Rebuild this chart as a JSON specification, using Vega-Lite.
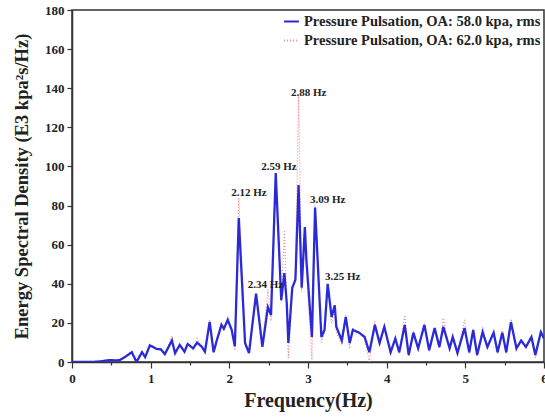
{
  "$schema": "https://vega.github.io/schema/vega-lite/v6.json",
  "width": 472,
  "height": 352,
  "autosize": {"type": "none"},
  "padding": {"left": 72, "top": 10, "right": 1, "bottom": 57},
  "background": "white",
  "config": {
    "view": {"stroke": "#333333", "strokeWidth": 1.5},
    "font": "Liberation Serif",
    "axis": {
      "labelFont": "Liberation Serif", "labelFontWeight": "bold", "labelFontSize": 13, "labelColor": "#222",
      "titleFont": "Liberation Serif", "titleFontWeight": "bold", "titleColor": "#222",
      "domainColor": "#333", "domainWidth": 1.5, "tickColor": "#333", "tickWidth": 1.2, "grid": false,
      "labelOverlap": false
    },
    "legend": {
      "labelFont": "Liberation Serif", "labelFontWeight": "bold", "labelFontSize": 14.5, "labelColor": "#222", "labelLimit": 400
    }
  },
  "datasets": {
    "spec": [
      {"f": 0, "a": 0, "b": 0},
      {"f": 0.10, "a": 0, "b": 0},
      {"f": 0.23, "a": 0, "b": 0},
      {"f": 0.36, "a": 0.3, "b": 0.3},
      {"f": 0.48, "a": 1, "b": 1.2},
      {"f": 0.55, "a": 0.8, "b": 0.8},
      {"f": 0.61, "a": 1, "b": 1},
      {"f": 0.69, "a": 3, "b": 3.5},
      {"f": 0.76, "a": 5, "b": 5.5},
      {"f": 0.82, "a": 0, "b": 0.5},
      {"f": 0.89, "a": 5, "b": 5.5},
      {"f": 0.93, "a": 2.5, "b": 2.5},
      {"f": 0.99, "a": 8.5, "b": 9},
      {"f": 1.08, "a": 6.6, "b": 7},
      {"f": 1.13, "a": 6.5, "b": 6.5},
      {"f": 1.18, "a": 4, "b": 3.5},
      {"f": 1.27, "a": 11, "b": 13.5},
      {"f": 1.31, "a": 4.6, "b": 3},
      {"f": 1.37, "a": 8.7, "b": 9},
      {"f": 1.43, "a": 5.3, "b": 5},
      {"f": 1.47, "a": 9.2, "b": 9.5},
      {"f": 1.54, "a": 7, "b": 6.5},
      {"f": 1.59, "a": 9.9, "b": 12},
      {"f": 1.65, "a": 7.8, "b": 7.5},
      {"f": 1.69, "a": 5.3, "b": 5},
      {"f": 1.75, "a": 20.5, "b": 21.5},
      {"f": 1.80, "a": 5, "b": 4.5},
      {"f": 1.84, "a": 11, "b": 11},
      {"f": 1.90, "a": 19, "b": 19.5},
      {"f": 1.93, "a": 17, "b": 17},
      {"f": 1.98, "a": 21.5, "b": 23.5},
      {"f": 2.03, "a": 16.4, "b": 16},
      {"f": 2.07, "a": 8, "b": 6},
      {"f": 2.12, "a": 73.6, "b": 84},
      {"f": 2.20, "a": 9.7, "b": 9},
      {"f": 2.25, "a": 4.6, "b": 4.5},
      {"f": 2.34, "a": 35, "b": 34},
      {"f": 2.42, "a": 7.7, "b": 8},
      {"f": 2.49, "a": 28, "b": 37},
      {"f": 2.53, "a": 24, "b": 21},
      {"f": 2.59, "a": 96.6, "b": 95},
      {"f": 2.66, "a": 31.7, "b": 30},
      {"f": 2.70, "a": 45.5, "b": 67.5},
      {"f": 2.73, "a": 30, "b": 28},
      {"f": 2.75, "a": 9.7, "b": 2},
      {"f": 2.80, "a": 38, "b": 36},
      {"f": 2.84, "a": 42, "b": 44},
      {"f": 2.88, "a": 90.5, "b": 136},
      {"f": 2.92, "a": 38, "b": 36},
      {"f": 2.96, "a": 69, "b": 62},
      {"f": 2.98, "a": 52, "b": 48},
      {"f": 3.05, "a": 12.8, "b": 1},
      {"f": 3.09, "a": 79, "b": 80},
      {"f": 3.17, "a": 12.8, "b": 10},
      {"f": 3.21, "a": 16.4, "b": 15},
      {"f": 3.25, "a": 40, "b": 38},
      {"f": 3.30, "a": 23, "b": 20},
      {"f": 3.34, "a": 29, "b": 28},
      {"f": 3.36, "a": 18, "b": 15},
      {"f": 3.43, "a": 11, "b": 9},
      {"f": 3.48, "a": 23, "b": 24},
      {"f": 3.53, "a": 9.7, "b": 7},
      {"f": 3.57, "a": 16.4, "b": 17},
      {"f": 3.65, "a": 15, "b": 15},
      {"f": 3.72, "a": 12.8, "b": 12},
      {"f": 3.78, "a": 5, "b": 0},
      {"f": 3.85, "a": 19, "b": 21},
      {"f": 3.91, "a": 9.7, "b": 9},
      {"f": 3.97, "a": 18, "b": 19},
      {"f": 4.05, "a": 5, "b": 4},
      {"f": 4.11, "a": 12, "b": 12},
      {"f": 4.16, "a": 5, "b": 4},
      {"f": 4.23, "a": 19, "b": 24},
      {"f": 4.28, "a": 3.6, "b": 3},
      {"f": 4.34, "a": 15, "b": 16},
      {"f": 4.40, "a": 7, "b": 6},
      {"f": 4.48, "a": 19, "b": 20},
      {"f": 4.54, "a": 6, "b": 5},
      {"f": 4.61, "a": 17.4, "b": 16},
      {"f": 4.67, "a": 7.7, "b": 7},
      {"f": 4.72, "a": 18, "b": 22.5},
      {"f": 4.80, "a": 7, "b": 6},
      {"f": 4.84, "a": 12.8, "b": 13},
      {"f": 4.90, "a": 4.6, "b": 4},
      {"f": 4.99, "a": 17.4, "b": 21.5},
      {"f": 5.05, "a": 5, "b": 4},
      {"f": 5.10, "a": 16.4, "b": 17},
      {"f": 5.15, "a": 3.6, "b": 3},
      {"f": 5.22, "a": 15.3, "b": 18},
      {"f": 5.28, "a": 7.7, "b": 7},
      {"f": 5.36, "a": 15, "b": 15},
      {"f": 5.41, "a": 5, "b": 4},
      {"f": 5.47, "a": 15, "b": 17},
      {"f": 5.52, "a": 5, "b": 4},
      {"f": 5.58, "a": 20.4, "b": 22},
      {"f": 5.65, "a": 7, "b": 6},
      {"f": 5.71, "a": 11, "b": 11},
      {"f": 5.77, "a": 7.7, "b": 7},
      {"f": 5.84, "a": 12.8, "b": 13},
      {"f": 5.89, "a": 3.6, "b": 2},
      {"f": 5.96, "a": 15.3, "b": 16},
      {"f": 6.0, "a": 12, "b": 12}
    ],
    "labels": [
      {"label": "2.12 Hz", "f": 2.25, "v": 86.5},
      {"label": "2.59 Hz", "f": 2.63, "v": 99.5},
      {"label": "2.88 Hz", "f": 3.01, "v": 137.5},
      {"label": "3.09 Hz", "f": 3.25, "v": 83},
      {"label": "2.34 Hz", "f": 2.46, "v": 39.5},
      {"label": "3.25 Hz", "f": 3.44, "v": 43.5}
    ]
  },
  "encoding": {
    "x": {
      "field": "f", "type": "quantitative",
      "scale": {"domain": [0, 6], "nice": false},
      "axis": {
        "title": "Frequency(Hz)", "titleFontSize": 20, "titlePadding": 5,
        "values": [0, 0.5, 1, 1.5, 2, 2.5, 3, 3.5, 4, 4.5, 5, 5.5, 6],
        "format": "~g",
        "labelExpr": "datum.value % 1 === 0 ? datum.label : ''",
        "tickSize": {"condition": {"test": "datum.value % 1 !== 0", "value": 3}, "value": 6},
        "labelPadding": 4, "labelFlush": false
      }
    },
    "y": {
      "field": "v", "type": "quantitative",
      "scale": {"domain": [0, 180], "nice": false},
      "axis": {
        "title": "Energy Spectral Density (E3 kpa²s/Hz)", "titleFontSize": 18.5, "titlePadding": 13,
        "values": [0, 20, 40, 60, 80, 100, 120, 140, 160, 180],
        "tickSize": 5, "labelPadding": 3, "labelOverlap": false
      }
    }
  },
  "layer": [
    {
      "data": {"name": "spec"},
      "transform": [{"fold": ["b"], "as": ["series", "v"]}],
      "mark": {"type": "line", "strokeWidth": 1.2, "clip": true},
      "encoding": {
        "color": {
          "field": "series", "type": "nominal",
          "scale": {"domain": ["a", "b"], "range": ["#2a2ad8", "#f08a8a"]},
          "legend": {
            "title": null, "orient": "top-right", "offset": 3,
            "symbolType": "stroke", "symbolSize": 220, "symbolStrokeWidth": 2,
            "rowPadding": 4, "labelOffset": 4,
            "labelExpr": "datum.label === 'a' ? 'Pressure Pulsation, OA: 58.0 kpa, rms' : 'Pressure Pulsation, OA: 62.0 kpa, rms'"
          }
        },
        "strokeDash": {
          "field": "series", "type": "nominal",
          "scale": {"domain": ["a", "b"], "range": [[1, 0], [1, 2]]},
          "legend": {
            "title": null, "orient": "top-right", "offset": 3,
            "symbolType": "stroke", "symbolSize": 220, "symbolStrokeWidth": 2,
            "rowPadding": 4, "labelOffset": 4,
            "labelExpr": "datum.label === 'a' ? 'Pressure Pulsation, OA: 58.0 kpa, rms' : 'Pressure Pulsation, OA: 62.0 kpa, rms'"
          }
        }
      }
    },
    {
      "data": {"name": "spec"},
      "transform": [{"fold": ["a"], "as": ["series", "v"]}],
      "mark": {"type": "line", "strokeWidth": 2.3, "clip": true},
      "encoding": {
        "color": {"field": "series", "type": "nominal"},
        "strokeDash": {"field": "series", "type": "nominal"}
      }
    },
    {
      "data": {"name": "labels"},
      "mark": {"type": "text", "font": "Liberation Serif", "fontWeight": "bold", "fontSize": 11, "color": "#222", "align": "center", "baseline": "middle"},
      "encoding": {
        "text": {"field": "label"}
      }
    }
  ]
}
